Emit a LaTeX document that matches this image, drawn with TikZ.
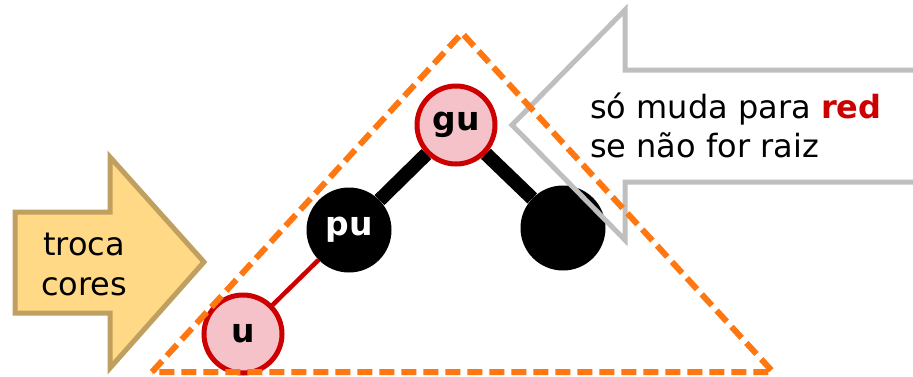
\documentclass[tikz,border=0pt]{standalone}
\usepackage{fontspec}
\setmainfont{DejaVu Sans}
\pgfdeclarelayer{edges}
\pgfsetlayers{edges,main}
\begin{document}
\begin{tikzpicture}[x=1pt,y=-1pt,
  redn/.style={circle,draw=nodered,fill=nodepink,line width=5pt,minimum size=78pt,inner sep=0pt,font=\fontsize{33}{36}\selectfont\bfseries},
  blackn/.style={circle,fill=black,minimum size=85pt,inner sep=0pt,text=white,font=\fontsize{33}{36}\selectfont\bfseries},
  thickedge/.style={line width=14pt,black},
  redge/.style={line width=4.5pt,nodered},
  note/.style={font=\fontsize{32}{39}\selectfont,inner sep=0pt}]
\definecolor{nodered}{HTML}{CC0000}
\definecolor{nodepink}{HTML}{F4C2C8}
\definecolor{arrowfill}{HTML}{FFD985}
\definecolor{arrowline}{HTML}{BFA060}
\definecolor{calloutgray}{HTML}{BFBFBF}
\definecolor{dashorange}{HTML}{FF7711}
\useasboundingbox (0,0) rectangle (913,376);
\clip (0,0) rectangle (913,376);

% recolouring arrow on the left
\begin{pgfonlayer}{edges}
\draw[arrowline,fill=arrowfill,line width=5pt,line join=miter]
  (15,212) -- (110,212) -- (110,157) -- (204,262) -- (110,368) -- (110,313) -- (15,313) -- cycle;
\end{pgfonlayer}
\node[note,anchor=base] (troca) at (84,255) {troca};
\node[note,anchor=base] (cores) at (84,295) {cores};

% tree
\node[redn] (gu) at (456,125) {gu};
\node[blackn] (pu) at (349,230) {pu};
\node[blackn] (bk) at (563,228) {};
\node[redn] (u) at (243,334) {u};
\begin{pgfonlayer}{edges}
\draw[thickedge] (gu) -- (pu);
\draw[thickedge] (gu) -- (bk);
\draw[redge] (pu) -- (u);
\end{pgfonlayer}

% callout arrow pointing at the grandparent
\draw[calloutgray,line width=5pt,line join=miter]
  (940,70) -- (625,70) -- (625,10) -- (512,125) -- (625,240) -- (625,182) -- (940,182);
\node[note,anchor=base west] (l1) at (590,118)
  {só muda para {\bfseries\color{nodered}red}};
\node[note,anchor=base west] (l2) at (590,157) {se não for raiz};

% dashed subtree outline
\coordinate (top) at (462,33);
\coordinate (bl) at (152,372);
\coordinate (br) at (773,372);
\draw[dashorange,line width=6pt,dash pattern=on 15pt off 7pt,line join=miter]
  (bl) -- (top) -- (br) -- cycle;
\end{tikzpicture}
\end{document}
